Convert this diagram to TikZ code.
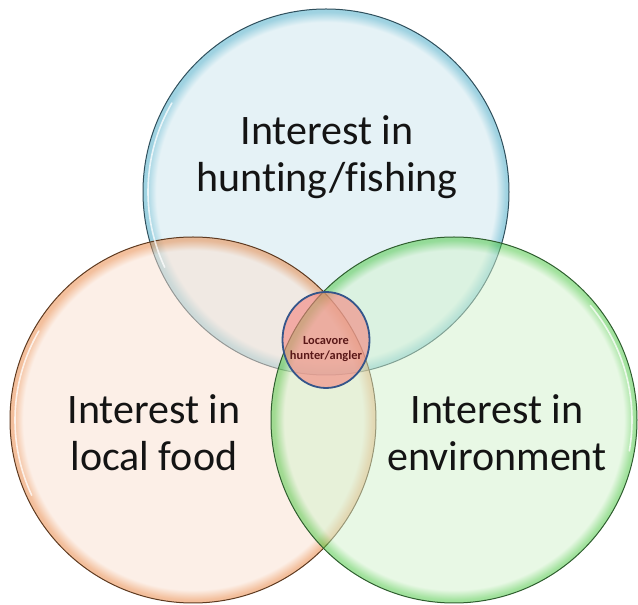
\documentclass[tikz,border=0pt]{standalone}
\usepackage{fontspec}
\setmainfont{Carlito}[Ligatures={NoCommon}]
\usetikzlibrary{shapes.geometric}
\definecolor{bluefill}{HTML}{CDE7EF}
\definecolor{blueglow}{HTML}{3FA6C4}
\definecolor{blueline}{HTML}{2F4F5C}
\definecolor{orangefill}{HTML}{FBE1D1}
\definecolor{orangeglow}{HTML}{E8803A}
\definecolor{orangeline}{HTML}{5E3A20}
\definecolor{greenfill}{HTML}{D3F3CD}
\definecolor{greenglow}{HTML}{45C63C}
\definecolor{greenline}{HTML}{2E5E2E}
\definecolor{redfill}{HTML}{F4837C}
\definecolor{redline}{HTML}{34558A}
\definecolor{redtext}{HTML}{5A1818}
\pgfdeclareradialshading{blueshade}{\pgfpoint{0bp}{0bp}}{color(0bp)=(bluefill); color(23.2bp)=(bluefill); color(24.6bp)=(blueglow); color(25bp)=(blueglow); color(50bp)=(blueglow)}
\pgfdeclareradialshading{orangeshade}{\pgfpoint{0bp}{0bp}}{color(0bp)=(orangefill); color(23.2bp)=(orangefill); color(24.6bp)=(orangeglow); color(25bp)=(orangeglow); color(50bp)=(orangeglow)}
\pgfdeclareradialshading{greenshade}{\pgfpoint{0bp}{0bp}}{color(0bp)=(greenfill); color(23.2bp)=(greenfill); color(24.6bp)=(greenglow); color(25bp)=(greenglow); color(50bp)=(greenglow)}
\begin{document}
\begin{tikzpicture}[x=1pt,y=1pt,
  venn/.style={circle, inner sep=0pt, minimum size=366pt, line width=1pt, fill opacity=0.5, draw opacity=1},
  bigtext/.style={align=center, font=\fontsize{42}{47}\selectfont, text=black!92},
  gloss/.style={white, line width=1.6pt, opacity=0.75, line cap=round}]
\useasboundingbox (0,0) rectangle (638,605);
\fill[white] (0,0) rectangle (638,605);
\node[venn, shading=blueshade, draw=blueline] (hunt) at (326,413) {};
\node[venn, shading=orangeshade, draw=orangeline] (food) at (193,185) {};
\node[venn, shading=greenshade, draw=greenline] (env) at (454,185) {};
\draw[gloss] ([shift={(150:178)}]hunt.center) arc[start angle=150, end angle=205, radius=178];
\draw[gloss] ([shift={(150:178)}]food.center) arc[start angle=150, end angle=205, radius=178];
\draw[gloss] ([shift={(-10:178)}]env.center) arc[start angle=-10, end angle=40, radius=178];
\node[ellipse, inner sep=0pt, minimum width=87pt, minimum height=96pt, fill=redfill, fill opacity=0.6, draw=redline, draw opacity=1, line width=1.8pt] (loc) at (326,265) {};
\node[bigtext] (thunt) at (327,448) {Interest in\\hunting/fishing};
\node[bigtext] (tfood) at (154,172) {Interest in\\local food};
\node[bigtext] (tenv) at (497,172) {Interest in\\environment};
\node[align=center, font=\bfseries\fontsize{12.4}{14.5}\selectfont, text=redtext] (tloc) at (loc.center) [yshift=-9pt] {Locavore\\hunter/angler};
\end{tikzpicture}
\end{document}
